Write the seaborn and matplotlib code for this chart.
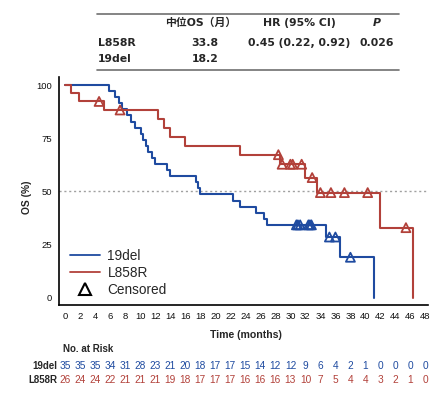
import numpy as np
import pandas as pd
import seaborn as sns
import matplotlib.pyplot as plt
from matplotlib.lines import Line2D
from matplotlib import transforms

# Event and censoring times (months)
del19_event = [5.8, 6.6, 7.1, 7.6, 8.2, 8.7, 9.3, 10.1, 10.4, 10.7, 11.0, 11.5, 12.0,
               13.5, 14.0, 17.4, 17.7, 18.0, 22.3, 23.3, 25.4, 26.5, 26.9, 34.8, 36.6, 41.2]
del19_censor = [30.8, 31.0, 31.3, 32.4, 32.6, 32.8, 35.2, 36.0, 38.0]
l858r_event = [0.8, 1.8, 5.1, 12.3, 13.1, 14.0, 16.0, 23.3, 28.6, 32.0, 33.6, 42.0, 46.3]
l858r_censor = [4.5, 7.3, 28.4, 28.9, 30.0, 30.3, 31.5, 32.9, 34.0, 35.4, 37.2, 40.3, 45.4]

# Number at risk table
risk_times = list(range(0, 49, 2))
risk_19del = [35, 35, 35, 34, 31, 28, 23, 21, 20, 18, 17, 17, 15, 14, 12, 12, 9, 6, 4, 2, 1, 0, 0, 0, 0]
risk_l858r = [26, 24, 24, 22, 21, 21, 21, 19, 18, 17, 17, 17, 16, 16, 16, 13, 10, 7, 5, 4, 4, 3, 2, 1, 0]

# Summary table on top
table_header = ['中位OS（月）', 'HR (95% CI)', 'P']
table_groups = ['L858R', '19del']
table_median = ['33.8', '18.2']
table_hr = ['0.45 (0.22, 0.92)', '']
table_p = ['0.026', '']

BLUE = '#1f4ba0'
RED = '#b2413a'


# Kaplan-Meier from event / censor times
def km(events, censors):
    df = pd.DataFrame({'time': events + censors,
                       'event': [1] * len(events) + [0] * len(censors)}).sort_values('time')
    n = len(df)
    s = 100.0
    curve = [(0.0, 100.0)]
    cens = []
    for t, e in zip(df['time'], df['event']):
        if e:
            s = s * (n - 1) / n
            curve.append((t, s))
        else:
            cens.append((t, s))
        n -= 1
    last = df['time'].max()
    if curve[-1][0] < last:
        curve.append((last, s))
    return (pd.DataFrame(curve, columns=['time', 'surv']),
            pd.DataFrame(cens, columns=['time', 'surv']))


sns.set_style('white')
plt.rcParams['font.family'] = ['Liberation Sans', 'Noto Sans CJK SC']

W, H = 448, 393
fig = plt.figure(figsize=(W / 100, H / 100), dpi=100)


def fx(px):
    return px / W


def fy(py):
    return 1 - py / H


ax = fig.add_axes([fx(59), fy(305), fx(427.7) - fx(59), fy(77) - fy(305)])

for ev, ce, col in [(del19_event, del19_censor, BLUE), (l858r_event, l858r_censor, RED)]:
    curve, cens = km(ev, ce)
    sns.lineplot(data=curve, x='time', y='surv', ax=ax, color=col, lw=1.5,
                 drawstyle='steps-post', estimator=None, sort=False)
    sns.scatterplot(data=cens, x='time', y='surv', ax=ax, marker='^', s=42,
                    facecolor='none', edgecolor=col, linewidth=1.3, zorder=4)

ax.axhline(50, color='#a0a0a0', lw=1.0, ls=(0, (1.5, 2)), zorder=0)

ax.set_xlim(-0.84, 48.3)
ax.set_ylim(-3.4, 103.8)
ax.set_xticks(risk_times)
ax.set_yticks([0, 25, 50, 75, 100])
ax.tick_params(axis='both', direction='out', length=3.2, width=1.1, color='black',
               labelsize=6.8, pad=2, labelcolor='#111111')
for side in ['top', 'right']:
    ax.spines[side].set_visible(False)
for side in ['left', 'bottom']:
    ax.spines[side].set_linewidth(1.2)
    ax.spines[side].set_color('black')
ax.set_xlabel('')
ax.set_ylabel('')

fig.text(fx(27), fy(197), 'OS (%)', rotation=90, ha='center', va='center',
         fontsize=7.4, fontweight='bold')
fig.text(fx(246), fy(335), 'Time (months)', ha='center', va='center',
         fontsize=7.6, fontweight='bold')

# legend
handles = [Line2D([], [], color=BLUE, lw=1.3, label='19del'),
           Line2D([], [], color=RED, lw=1.3, label='L858R'),
           Line2D([], [], ls='none', marker='^', mfc='none', mec='black', ms=8.5,
                  mew=1.5, label='Censored')]
ax.legend(handles=handles, loc='lower left', bbox_to_anchor=(fx(70), fy(297)),
          bbox_transform=fig.transFigure, frameon=False, fontsize=9.8,
          handlelength=2.2, handletextpad=0.55, labelspacing=0.22,
          borderpad=0, borderaxespad=0)

# number at risk
tr = transforms.blended_transform_factory(ax.transData, fig.transFigure)
fig.text(fx(63), fy(349), 'No. at Risk', ha='left', va='center', fontsize=7,
         fontweight='bold')
for label, counts, col, py in [('19del', risk_19del, BLUE, 366), ('L858R', risk_l858r, RED, 380)]:
    fig.text(fx(57), fy(py), label, ha='right', va='center', fontsize=7, fontweight='bold')
    for t, c in zip(risk_times, counts):
        ax.text(t, fy(py), str(c), transform=tr, ha='center', va='center',
                fontsize=7.3, color=col)

# summary table
tfont = ['DejaVu Sans', 'Noto Sans CJK SC']
fig.add_artist(Line2D([fx(97), fx(399)], [fy(14), fy(14)], color='#6f6f6f', lw=1.2))
fig.add_artist(Line2D([fx(97), fx(399)], [fy(70), fy(70)], color='#6f6f6f', lw=1.2))
col_x = [201, 299, 377]
fs = 7.8
for x, h in zip(col_x, table_header):
    fig.text(fx(x), fy(23), h, ha='center', va='center', fontsize=fs,
             fontweight='bold', family=tfont, style='italic' if h == 'P' else 'normal')
for i, py in enumerate([42.5, 59]):
    fig.text(fx(98), fy(py), table_groups[i], ha='left', va='center', fontsize=fs,
             fontweight='bold', family=tfont)
    fig.text(fx(205), fy(py), table_median[i], ha='center', va='center', fontsize=fs,
             fontweight='bold', family=tfont)
    fig.text(fx(299), fy(py), table_hr[i], ha='center', va='center', fontsize=fs,
             fontweight='bold', family=tfont)
    fig.text(fx(377), fy(py), table_p[i], ha='center', va='center', fontsize=fs,
             fontweight='bold', family=tfont)

fig.savefig('out.png', dpi=100)
